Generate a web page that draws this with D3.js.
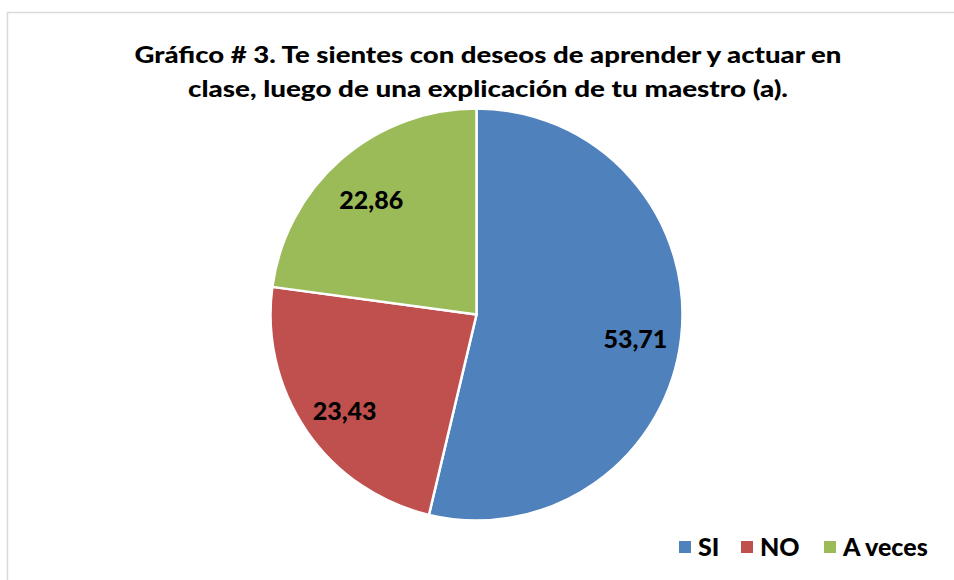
<!DOCTYPE html>
<html>
<head>
<meta charset="utf-8">
<script src="https://cdn.jsdelivr.net/npm/d3@7"></script>
<style>
  body { margin: 0; background: #fff; }
  svg { display: block; }
</style>
</head>
<body>
<script>
// chart values
var categories = ["SI", "NO", "A veces"];
var values = [53.71, 23.43, 22.86];
var valueLabels = ["53,71", "23,43", "22,86"];
var colors = ["#4F81BD", "#C0504D", "#9BBB59"];
var titleLines = ["Gráfico # 3. Te sientes con deseos de aprender y actuar en",
                  "clase, luego de una explicación de tu maestro (a)."];

var w = 954, h = 580;
var cx = 476.5, cy = 314.5, r = 206;
var font = "Lato, 'Open Sans', sans-serif";

var svg = d3.select("body").append("svg")
    .attr("width", w)
    .attr("height", h);

// chart frame (runs off the right and bottom edges)
svg.append("rect")
    .attr("x", 7.5).attr("y", 12.5)
    .attr("width", w + 10).attr("height", h + 10)
    .attr("fill", "#fff")
    .attr("stroke", "#d9d9d9")
    .attr("stroke-width", 1.5);

// title
var titleWidths = [707, 600];
svg.selectAll("text.title")
    .data(titleLines)
    .enter()
    .append("text")
    .attr("class", "title")
    .text(function(d) { return d; })
    .attr("x", 488)
    .attr("y", function(d, i) { return 63 + i * 34; })
    .attr("text-anchor", "middle")
    .attr("font-family", font)
    .attr("font-weight", 900)
    .attr("font-size", "23px")
    .attr("textLength", function(d, i) { return titleWidths[i]; })
    .attr("lengthAdjust", "spacingAndGlyphs")
    .attr("fill", "#000");

// pie
var pie = d3.pie().sort(null).value(function(d) { return d; });
var arcs = pie(values);
var arc = d3.arc().innerRadius(0).outerRadius(r);
var labelArc = d3.arc().innerRadius(160).outerRadius(160);

var g = svg.append("g").attr("transform", "translate(" + cx + "," + cy + ")");

g.selectAll("path")
    .data(arcs)
    .enter()
    .append("path")
    .attr("d", arc)
    .attr("fill", function(d, i) { return colors[i]; })
    .attr("stroke", "#fff")
    .attr("stroke-width", 2.5)
    .attr("stroke-linejoin", "round");

g.selectAll("text")
    .data(arcs)
    .enter()
    .append("text")
    .text(function(d, i) { return valueLabels[i]; })
    .attr("x", function(d) { return labelArc.centroid(d)[0]; })
    .attr("y", function(d) { return labelArc.centroid(d)[1] + 6; })
    .attr("dy", "0.35em")
    .attr("text-anchor", "middle")
    .attr("font-family", font)
    .attr("font-weight", 900)
    .attr("font-size", "25px")
    .attr("fill", "#000");

// legend
var legendX = [679, 741, 824];
var legend = svg.selectAll("g.legend")
    .data(categories)
    .enter()
    .append("g")
    .attr("class", "legend")
    .attr("transform", function(d, i) { return "translate(" + legendX[i] + ",547)"; });

legend.append("rect")
    .attr("x", 0).attr("y", -6)
    .attr("width", 12).attr("height", 12)
    .attr("fill", function(d, i) { return colors[i]; });

legend.append("text")
    .text(function(d) { return d; })
    .attr("x", 19)
    .attr("dy", "0.36em")
    .attr("font-family", font)
    .attr("font-weight", 900)
    .attr("font-size", "25px")
    .attr("fill", "#000");
</script>
</body>
</html>
